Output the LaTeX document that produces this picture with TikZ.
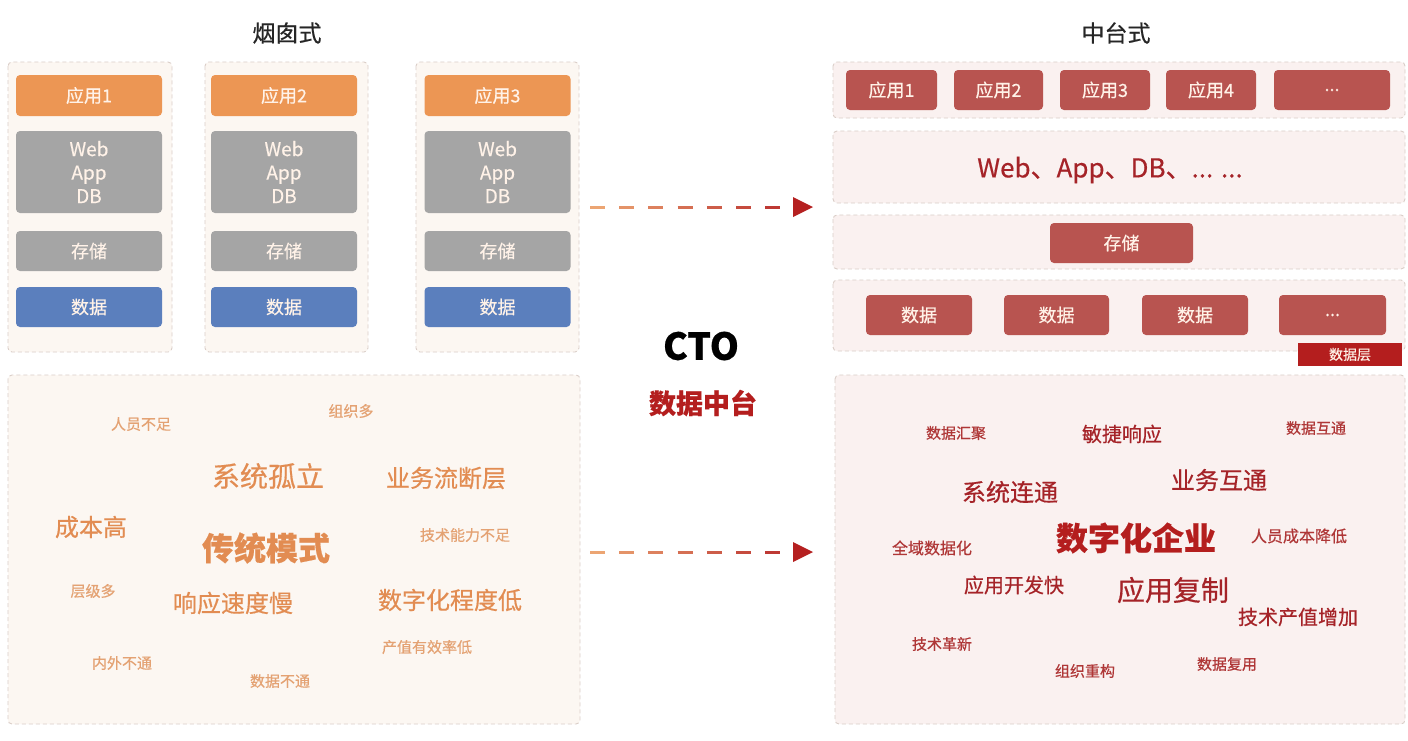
\documentclass[tikz,border=0pt]{standalone}
\usepackage{fontspec}
\setmainfont{Noto Sans CJK SC}[FakeBold=0.5]
\usetikzlibrary{calc}
\definecolor{orangebox}{RGB}{236,150,84}
\definecolor{graybox}{RGB}{165,165,165}
\definecolor{bluebox}{RGB}{91,127,189}
\definecolor{redbox}{RGB}{184,84,80}
\definecolor{labelred}{RGB}{180,30,30}
\definecolor{leftfill}{RGB}{252,247,242}
\definecolor{rightfill}{RGB}{250,241,240}
\definecolor{dashcol}{RGB}{218,206,200}
\definecolor{otext}{RGB}{226,140,82}
\definecolor{otextl}{RGB}{228,162,115}
\definecolor{rtext}{RGB}{165,35,40}
\definecolor{rtextl}{RGB}{175,55,55}
\definecolor{boxtext}{RGB}{255,242,232}
\definecolor{arrA}{RGB}{236,165,115}
\definecolor{arrB}{RGB}{185,45,45}
\newcommand{\fsz}[1]{\fontsize{#1}{#1}\selectfont}
\tikzset{
  lcont/.style={draw=dashcol, dash pattern=on 4pt off 3pt, fill=leftfill, rounded corners=4pt, line width=0.9pt},
  rcont/.style={draw=dashcol, dash pattern=on 4pt off 3pt, fill=rightfill, rounded corners=4pt, line width=0.9pt},
  sbox/.style={rounded corners=4pt, inner sep=0pt, text=boxtext, align=center, font=\fsz{18}},
  obox/.style={sbox, fill=orangebox, minimum width=146pt, minimum height=41pt},
  gbox/.style={sbox, fill=graybox, minimum width=146pt, minimum height=82pt, font=\fontsize{19}{23.5}\selectfont},
  sgbox/.style={sbox, fill=graybox, minimum width=146pt, minimum height=40pt},
  bbox/.style={sbox, fill=bluebox, minimum width=146pt, minimum height=40pt},
  rbox/.style={sbox, fill=redbox, minimum height=40pt},
  ow/.style={text=otext, inner sep=0pt},
  owl/.style={text=otextl, inner sep=0pt},
  rw/.style={text=rtext, inner sep=0pt},
  rwl/.style={text=rtextl, inner sep=0pt},
  title/.style={font=\fsz{23}, text=black!85, inner sep=0pt},
}
\begin{document}
\begin{tikzpicture}[x=1pt,y=-1pt]
\useasboundingbox (0,0) rectangle (1408,740);
\fill[white] (0,0) rectangle (1408,740);

% ---------- left: chimney ----------
\node[title] (tl) at (287,33) {烟囱式};
\foreach \i/\x/\ca/\cb in {1/89/8/172, 2/284/205/368, 3/497.5/416/579}{
  \draw[lcont] (\ca,62) rectangle (\cb,352);
  \node[obox] (app\i) at (\x,95.5) {应用\i};
  \node[gbox] (wad\i) at (\x,172) {Web\\App\\DB};
  \node[sgbox] (st\i) at (\x,251) {存储};
  \node[bbox] (da\i) at (\x,307) {数据};
}
\draw[lcont] (8,375) rectangle (580,724);
\node[owl, font=\fsz{15}] (l1) at (141,424) {人员不足};
\node[owl, font=\fsz{15}] (l2) at (351,411) {组织多};
\node[ow, font=\fsz{28}] (l3) at (268,476) {系统孤立};
\node[ow, font=\fsz{24}] (l4) at (446,478) {业务流断层};
\node[ow, font=\fsz{24}] (l5) at (91,527) {成本高};
\node[owl, font=\fsz{15}] (l6) at (465,535) {技术能力不足};
\node[ow, font=\bfseries\fsz{32}] (l7) at (266,548) {传统模式};
\node[owl, font=\fsz{15}] (l8) at (93,591) {层级多};
\node[ow, font=\fsz{24}] (l9) at (233,603) {响应速度慢};
\node[ow, font=\fsz{24}] (l10) at (450,600) {数字化程度低};
\node[owl, font=\fsz{15}] (l11) at (427,647) {产值有效率低};
\node[owl, font=\fsz{15}] (l12) at (122,663) {内外不通};
\node[owl, font=\fsz{15}] (l13) at (280,681) {数据不通};

% ---------- middle ----------
\node[font=\bfseries\fsz{37}, text=black, inner sep=0pt] (cto) at (701,346) {CTO};
\node[font=\bfseries\fsz{27}, text=labelred, inner sep=0pt] (dmt) at (703,403) {数据中台};
\foreach \ay/\nm in {207/a, 552/b}{
  \coordinate (\nm s) at (590,\ay);
  \coordinate (\nm e) at (813,\ay);
  \foreach \k in {0,...,6}{
    \pgfmathsetmacro{\p}{100-\k*15}
    \draw[line width=3pt, color=arrA!\p!arrB] ($(\nm s)+(\k*29.2,0)$) -- ++(15,0);
  }
  \fill[labelred!90!arrB] ($(\nm e)+(-20,-10)$) -- (\nm e) -- ($(\nm e)+(-20,10)$) -- cycle;
}

% ---------- right: middle platform ----------
\node[title] (tr) at (1116,33) {中台式};
\draw[rcont] (833,62) rectangle (1405,118);
\draw[rcont] (833,131) rectangle (1405,203);
\draw[rcont] (833,215) rectangle (1405,269);
\draw[rcont] (833,280) rectangle (1405,351);
\node[rbox, minimum width=91pt] (ra1) at (891.5,90) {应用1};
\node[rbox, minimum width=89pt] (ra2) at (998.5,90) {应用2};
\node[rbox, minimum width=90pt] (ra3) at (1105,90) {应用3};
\node[rbox, minimum width=90pt] (ra4) at (1211,90) {应用4};
\node[rbox, minimum width=116pt] (ra5) at (1332,90) {...};
\node[text=rtext, font=\fsz{26}, inner sep=0pt] (wad) at (1110,170) {Web、App、DB、... ...};
\node[rbox, minimum width=143pt] (rst) at (1121.5,243) {存储};
\node[rbox, minimum width=106pt] (rd1) at (919,315) {数据};
\node[rbox, minimum width=105pt] (rd2) at (1056.5,315) {数据};
\node[rbox, minimum width=106pt] (rd3) at (1195,315) {数据};
\node[rbox, minimum width=107pt] (rd4) at (1332.5,315) {...};
\node[fill=labelred, text=boxtext, font=\fsz{14}, minimum width=104pt, minimum height=23pt, inner sep=0pt] (dl) at (1350,354.5) {数据层};

\draw[rcont] (835,375) rectangle (1405,724);
\node[rwl, font=\fsz{15}] (r1) at (956,433) {数据汇聚};
\node[rw, font=\fsz{20}] (r2) at (1122,434) {敏捷响应};
\node[rwl, font=\fsz{15}] (r3) at (1316,428) {数据互通};
\node[rw, font=\fsz{24}] (r4) at (1219,480) {业务互通};
\node[rw, font=\fsz{24}] (r5) at (1010,492) {系统连通};
\node[rw, font=\bfseries\fsz{32}, text=labelred] (r6) at (1136,538) {数字化企业};
\node[rwl, font=\fsz{16}] (r7) at (1299,536) {人员成本降低};
\node[rwl, font=\fsz{16}] (r8) at (932,548) {全域数据化};
\node[rw, font=\fsz{20}] (r9) at (1014,585) {应用开发快};
\node[rw, font=\fsz{28}] (r10) at (1173,590) {应用复制};
\node[rw, font=\fsz{20}] (r11) at (1298,617) {技术产值增加};
\node[rwl, font=\fsz{15}] (r12) at (942,644) {技术革新};
\node[rwl, font=\fsz{15}] (r13) at (1085,671) {组织重构};
\node[rwl, font=\fsz{15}] (r14) at (1227,664) {数据复用};
\end{tikzpicture}
\end{document}
